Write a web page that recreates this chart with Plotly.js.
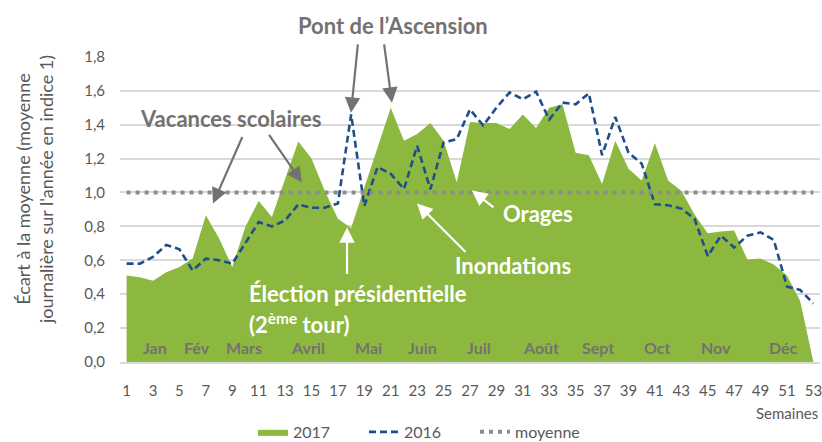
<!DOCTYPE html>
<html>
<head>
<meta charset="utf-8">
<script src="https://cdn.plot.ly/plotly-3.0.1.min.js"></script>
<style>html,body{margin:0;padding:0;background:#fff;}#chart{width:822px;height:442px;}</style>
</head>
<body>
<div id="chart"></div>
<script>
const weeks = Array.from({length: 53}, (_, i) => i + 1);
const values2017 = [0.51,0.50,0.48,0.53,0.56,0.61,0.865,0.73,0.56,0.80,0.95,0.855,1.08,1.30,1.20,1.01,0.845,0.79,
  1.03,1.27,1.50,1.305,1.345,1.41,1.305,1.06,1.415,1.41,1.41,1.375,1.46,1.38,1.50,1.52,1.235,1.22,1.05,1.305,1.14,1.07,
  1.29,1.07,1.01,0.87,0.76,0.77,0.775,0.605,0.61,0.575,0.51,0.36,0.0];
const values2016 = [0.58,0.58,0.62,0.69,0.665,0.54,0.61,0.60,0.58,0.70,0.825,0.80,0.835,0.93,0.91,0.91,0.935,1.46,
  0.92,1.15,1.11,1.02,1.275,1.02,1.295,1.315,1.49,1.395,1.50,1.59,1.55,1.595,1.43,1.53,1.52,1.585,1.22,1.445,1.235,1.17,
  0.93,0.925,0.905,0.845,0.625,0.745,0.675,0.745,0.765,0.72,0.445,0.425,0.345];
const moyenne = weeks.map(() => 1.0);
const tickWeeks = weeks.filter(w => w % 2 === 1);
const yTicks = [0,0.2,0.4,0.6,0.8,1.0,1.2,1.4,1.6,1.8];
const monthLabels = ['Jan','Fév','Mars','Avril','Mai','Juin','Juil','Août','Sept','Oct','Nov','Déc'];
const monthPos = [3.15,6.33,9.89,14.73,19.28,23.44,27.68,32.38,36.69,41.16,45.63,50.7];

const FONT = 'Lato, "Open Sans", sans-serif';
const GRAY = '#595959';
const ANNGRAY = '#767171';

const traces = [
  {x: weeks, y: values2017, name: '2017', type: 'scatter', mode: 'lines',
   fill: 'tozeroy', fillcolor: '#8db840', line: {width: 0, color: '#8db840'}},
  {x: weeks, y: values2016, name: '2016', type: 'scatter', mode: 'lines',
   line: {color: '#1f4e8c', width: 2.6, dash: '7px,4px'}},
  {x: weeks, y: moyenne, name: 'moyenne', type: 'scatter', mode: 'lines',
   line: {color: '#8c8c8c', width: 4, dash: '4px,5px'}}
];

const annotations = [];
monthLabels.forEach((m, i) => annotations.push({
  x: monthPos[i], y: 0.088, xref: 'x', yref: 'y', text: '<b>' + m + '</b>', showarrow: false,
  font: {family: FONT, size: 16, color: ANNGRAY}
}));
function arrow(x, y, ax, ay, color) {
  annotations.push({x: x, y: y, xref: 'x', yref: 'y', ax: ax, ay: ay, text: '', showarrow: true,
    arrowhead: 2, arrowsize: 1.4, arrowwidth: 2.2, arrowcolor: color});
}
function label(x, y, text, color, size, anchor, yref) {
  annotations.push({x: x, y: y, xref: 'x', yref: yref || 'y', text: '<b>' + text + '</b>', showarrow: false,
    xanchor: anchor || 'center', yanchor: 'middle', font: {family: FONT, size: size, color: color}});
}
label(21.17, 1.101, 'Pont de l’Ascension', ANNGRAY, 22, 'center', 'paper');
arrow(17.99, 1.47, 7, -70, ANNGRAY);
arrow(21.09, 1.529, -8, -60, ANNGRAY);
label(8.83, 1.435, 'Vacances scolaires', ANNGRAY, 22);
arrow(7.54, 0.935, 30, -68, ANNGRAY);
arrow(14.28, 1.059, -34, -49, ANNGRAY);
label(10.12, 0.406, 'Élection présidentielle', '#ffffff', 22, 'left');
label(10.12, 0.229, '(2<sup>ème</sup> tour)', '#ffffff', 22, 'left');
arrow(17.69, 0.794, 0, 48, '#ffffff');
label(30.26, 0.571, 'Inondations', '#ffffff', 22);
arrow(22.99, 0.935, 50, 50, '#ffffff');
label(32.15, 0.876, 'Orages', '#ffffff', 22);
arrow(27.15, 1.012, 23, 18, '#ffffff');
annotations.push({xref: 'paper', yref: 'paper', x: 1, y: -0.1667, xanchor: 'right', yanchor: 'middle',
  text: 'Semaines', showarrow: false, font: {family: FONT, size: 15, color: GRAY}});
annotations.push({xref: 'paper', yref: 'paper', x: -0.123, y: 0.565, xanchor: 'center', yanchor: 'middle',
  textangle: -90, text: 'Écart à la moyenne (moyenne<br>journalière sur l\'année en indice 1)', showarrow: false,
  font: {family: FONT, size: 18, color: GRAY}});

const layout = {
  width: 822, height: 442,
  margin: {l: 120, r: 2, t: 56, b: 80, autoexpand: false},
  paper_bgcolor: '#ffffff', plot_bgcolor: '#ffffff',
  separators: ', ',
  font: {family: FONT, size: 15, color: GRAY},
  showlegend: true,
  legend: {orientation: 'h', x: 0.19, xanchor: 'left', y: -0.173, yanchor: 'top',
    font: {family: FONT, size: 16, color: GRAY}, entrywidth: 66, entrywidthmode: 'pixels',
    bgcolor: 'rgba(0,0,0,0)'},
  xaxis: {range: [0.5, 53.5], tickmode: 'array', tickvals: tickWeeks, ticktext: tickWeeks.map(String),
    showgrid: false, zeroline: false, showline: true, linecolor: '#d9d9d9', linewidth: 2, ticks: '',
    ticklabeloverflow: 'allow', automargin: false,
    ticklabelstandoff: 14, tickfont: {family: FONT, size: 15, color: GRAY}},
  yaxis: {range: [0, 1.805], tickmode: 'array', tickvals: yTicks, tickformat: '.1f',
    showgrid: true, gridcolor: '#d9d9d9', gridwidth: 2, zeroline: false, showline: false, ticks: '',
    ticklabelstandoff: 14, tickfont: {family: FONT, size: 15, color: GRAY}},
  annotations: annotations
};

Plotly.newPlot('chart', traces, layout, {staticPlot: true, displayModeBar: false});
</script>
</body>
</html>
